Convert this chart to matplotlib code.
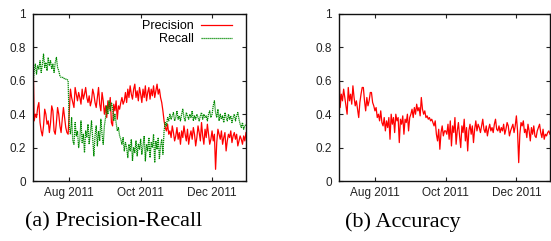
import matplotlib
matplotlib.use("Agg")
import matplotlib.pyplot as plt
import numpy as np
import pandas as pd

dates = pd.date_range("2011-07-01", "2011-12-30", freq="D")

precision = [
    # Jul
    0.78,0.36,0.40,0.38,0.44,0.47,0.35,0.30,0.27,0.33,0.43,0.40,0.34,0.36,0.29,0.35,0.45,0.42,0.30,0.28,0.35,0.44,0.40,0.33,0.29,0.37,0.44,0.38,0.32,0.29,0.28,
    # Aug
    0.42,0.55,0.50,0.47,0.44,0.56,0.52,0.48,0.53,0.50,0.46,0.55,0.49,0.52,0.56,0.50,0.47,0.51,0.45,0.48,0.55,0.52,0.47,0.44,0.50,0.56,0.46,0.42,0.53,0.48,0.40,
    # Sep
    0.45,0.38,0.48,0.43,0.50,0.35,0.33,0.46,0.42,0.48,0.37,0.45,0.43,0.47,0.50,0.46,0.48,0.53,0.47,0.55,0.50,0.57,0.52,0.49,0.55,0.58,0.50,0.54,0.48,0.56,
    # Oct
    0.52,0.47,0.55,0.50,0.57,0.48,0.53,0.56,0.49,0.55,0.51,0.57,0.50,0.54,0.58,0.52,0.55,0.50,0.47,0.42,0.36,0.32,0.30,0.34,0.28,0.30,0.26,0.33,0.29,0.24,0.27,
    # Nov
    0.32,0.25,0.29,0.22,0.30,0.26,0.33,0.28,0.24,0.31,0.22,0.27,0.30,0.25,0.32,0.28,0.21,0.26,0.33,0.29,0.24,0.35,0.27,0.22,0.31,0.26,0.34,0.28,0.22,0.25,
    # Dec
    0.30,0.24,0.28,0.07,0.23,0.31,0.28,0.25,0.30,0.22,0.26,0.29,0.18,0.24,0.28,0.26,0.30,0.23,0.27,0.29,0.25,0.28,0.21,0.24,0.27,0.25,0.22,0.27,0.24,0.29,
]

recall = [
    # Jul
    0.58,0.66,0.70,0.64,0.69,0.67,0.72,0.65,0.70,0.76,0.68,0.71,0.66,0.74,0.69,0.72,0.67,0.70,0.65,0.71,0.74,0.68,0.66,0.63,0.62,0.62,0.62,0.61,0.61,0.61,0.60,
    # Aug
    0.33,0.28,0.38,0.24,0.22,0.35,0.27,0.30,0.20,0.25,0.36,0.23,0.28,0.17,0.30,0.26,0.34,0.22,0.29,0.36,0.25,0.15,0.27,0.33,0.21,0.30,0.24,0.37,0.28,0.22,0.33,
    # Sep
    0.38,0.45,0.40,0.48,0.42,0.47,0.44,0.36,0.40,0.35,0.30,0.32,0.27,0.25,0.22,0.26,0.18,0.23,0.20,0.14,0.22,0.18,0.25,0.12,0.20,0.17,0.24,0.15,0.22,0.19,
    # Oct
    0.25,0.16,0.21,0.27,0.12,0.22,0.18,0.26,0.14,0.23,0.20,0.28,0.11,0.24,0.19,0.26,0.13,0.21,0.25,0.16,0.30,0.35,0.33,0.38,0.36,0.40,0.37,0.39,0.41,0.36,0.38,
    # Nov
    0.42,0.37,0.39,0.36,0.40,0.43,0.38,0.36,0.41,0.39,0.37,0.40,0.38,0.42,0.36,0.39,0.37,0.40,0.38,0.36,0.39,0.41,0.37,0.40,0.38,0.39,0.36,0.40,0.42,0.38,
    # Dec
    0.40,0.45,0.48,0.41,0.38,0.43,0.36,0.40,0.37,0.39,0.35,0.41,0.38,0.36,0.40,0.37,0.39,0.35,0.38,0.40,0.36,0.39,0.41,0.37,0.34,0.32,0.35,0.31,0.33,0.34,
]

accuracy = [
    # Jul
    0.68,0.44,0.52,0.48,0.55,0.50,0.45,0.40,0.56,0.48,0.52,0.46,0.57,0.50,0.45,0.48,0.43,0.38,0.47,0.52,0.56,0.56,0.48,0.42,0.50,0.45,0.48,0.53,0.53,0.47,0.45,
    # Aug
    0.42,0.44,0.38,0.40,0.36,0.42,0.35,0.33,0.38,0.30,0.36,0.32,0.38,0.25,0.40,0.34,0.38,0.29,0.40,0.36,0.38,0.23,0.37,0.34,0.39,0.28,0.37,0.35,0.40,0.30,0.38,
    # Sep
    0.40,0.43,0.38,0.44,0.40,0.46,0.42,0.44,0.39,0.50,0.43,0.40,0.42,0.38,0.39,0.37,0.38,0.36,0.37,0.35,0.33,0.36,0.28,0.24,0.31,0.19,0.29,0.33,0.27,0.30,
    # Oct
    0.30,0.28,0.34,0.25,0.36,0.21,0.33,0.29,0.38,0.22,0.30,0.35,0.27,0.20,0.33,0.29,0.37,0.24,0.32,0.18,0.30,0.34,0.28,0.33,0.23,0.31,0.36,0.30,0.34,0.32,0.29,
    # Nov
    0.33,0.37,0.31,0.29,0.33,0.27,0.31,0.34,0.30,0.32,0.29,0.34,0.37,0.31,0.30,0.33,0.29,0.32,0.30,0.34,0.28,0.31,0.35,0.33,0.27,0.30,0.32,0.34,0.29,0.33,
    # Dec
    0.39,0.30,0.11,0.28,0.35,0.33,0.36,0.29,0.31,0.26,0.34,0.30,0.24,0.32,0.28,0.33,0.27,0.26,0.30,0.32,0.34,0.29,0.26,0.31,0.25,0.28,0.27,0.29,0.30,0.28,
]

yticks = [0, 0.2, 0.4, 0.6, 0.8, 1]
ytick_labels = ["0", "0.2", "0.4", "0.6", "0.8", "1"]
xtick_dates = ["2011-08-01", "2011-10-01", "2011-12-01"]
xtick_labels = ["Aug 2011", "Oct 2011", "Dec 2011"]
captions = ["(a) Precision-Recall", "(b) Accuracy"]

RED = "#ff0000"
GREEN = "#008a00"

plt.rcParams["font.family"] = ["Liberation Sans", "DejaVu Sans"]

fig = plt.figure(figsize=(5.51, 2.41), dpi=100)
W, H = 551, 241
def add_ax(x0, x1, y0, y1):
    return fig.add_axes([x0 / W, 1 - y1 / H, (x1 - x0) / W, (y1 - y0) / H])

ax1 = add_ax(33, 246, 14, 181)
ax2 = add_ax(339, 550, 14, 181)

ax1.plot(dates, precision, color=RED, lw=0.9, label="Precision")
ax1.plot(dates, recall, color=GREEN, lw=0.9, ls=(0, (1, 0.6)), label="Recall")
ax2.plot(dates, accuracy, color=RED, lw=0.9)

xt = pd.to_datetime(xtick_dates)
for ax in (ax1, ax2):
    ax.set_xlim(pd.Timestamp("2011-07-01"), pd.Timestamp("2011-12-30"))
    ax.set_ylim(0, 1)
    ax.set_yticks(yticks)
    ax.set_yticklabels(ytick_labels)
    ax.set_xticks(xt)
    ax.set_xticklabels(xtick_labels)
    ax.tick_params(direction="in", length=3, width=0.8, labelsize=8.5,
                   top=True, right=True, pad=4, colors="#222222")
    ax.tick_params(axis="y", pad=5)
    for s in ax.spines.values():
        s.set_linewidth(1.0)
        s.set_color("#111111")

leg = ax1.legend(loc="upper right", frameon=False, fontsize=9, markerfirst=False,
                 handlelength=2.5, handletextpad=0.55, labelspacing=0.1,
                 borderaxespad=0.3, bbox_to_anchor=(0.975, 1.015))

fig.text(114 / W, 1 - 222 / H, captions[0], family="Liberation Serif",
         fontsize=16, ha="center", va="center")
fig.text(403 / W, 1 - 222 / H, captions[1], family="Liberation Serif",
         fontsize=16, ha="center", va="center")

fig.savefig("out.png", dpi=100)
